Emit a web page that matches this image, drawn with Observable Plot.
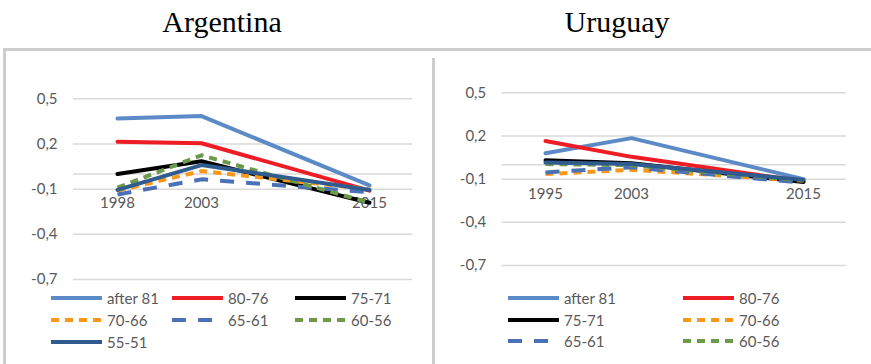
<!DOCTYPE html>
<html>
<head>
<meta charset="utf-8">
<script src="https://cdn.jsdelivr.net/npm/d3@7"></script>
<script src="https://cdn.jsdelivr.net/npm/@observablehq/plot@0.6"></script>
<style>
  html, body { margin: 0; padding: 0; background: #fff; }
  #page { position: relative; width: 871px; height: 364px; overflow: hidden; background: #fff; }
  .title { position: absolute; width: 300px; text-align: center; font-family: "Liberation Serif", "Times New Roman", serif; font-weight: normal; font-size: 30px; line-height: 1; color: #000; }
  .frame { position: absolute; background: #cdcdcd; }
  .chart { position: absolute; }
  .legend-item { position: absolute; height: 20px; display: flex; align-items: center; font-family: Lato, "Open Sans", sans-serif; font-size: 15px; color: #595959; white-space: nowrap; }
  .legend-item svg { margin-right: 5px; }
</style>
</head>
<body>
<div id="page"></div>
<script>
// Cohorts (birth years) shown in both panels
const cohorts = ["after 81", "80-76", "75-71", "70-66", "65-61", "60-56", "55-51"];

// Argentina: survey years, axis slots (the blank slot is an empty category) and values per cohort
const argentinaYears = ["1998", "2003", "2015"];
const argentinaSlots = ["1998", "2003", "", "2015"];
const argAfter81 = [0.37, 0.385, -0.075];
const arg80to76 = [0.215, 0.205, -0.11];
const arg75to71 = [0.0, 0.085, -0.19];
const arg70to66 = [-0.11, 0.02, -0.10];
const arg65to61 = [-0.135, -0.035, -0.12];
const arg60to56 = [-0.09, 0.125, -0.19];
const arg55to51 = [-0.105, 0.06, -0.105];

// Uruguay
const uruguayYears = ["1995", "2003", "2015"];
const uruguaySlots = ["1995", "2003", "", "2015"];
const uruAfter81 = [0.08, 0.185, -0.1];
const uru80to76 = [0.165, 0.055, -0.115];
const uru75to71 = [0.032, 0.01, -0.12];
const uru70to66 = [-0.065, -0.035, -0.11];
const uru65to61 = [-0.053, -0.018, -0.125];
const uru60to56 = [0.005, -0.003, -0.11];
const uru55to51 = [0.015, 0.005, -0.105];

// Value axis
const yTicks = [0.5, 0.2, -0.1, -0.4, -0.7];
const yDomain = [-0.7, 0.5];

// Line style per cohort
const styles = {
  "after 81": {stroke: "#5b8ac6", dash: null},
  "80-76": {stroke: "#ee1c25", dash: null},
  "75-71": {stroke: "#000000", dash: null},
  "70-66": {stroke: "#f7981d", dash: "8,6"},
  "65-61": {stroke: "#4a70b6", dash: "14,12"},
  "60-56": {stroke: "#6b9a48", dash: "8,6"},
  "55-51": {stroke: "#2f5b8f", dash: null}
};

const argentinaSeries = [argAfter81, arg80to76, arg75to71, arg70to66, arg65to61, arg60to56, arg55to51];
const uruguaySeries = [uruAfter81, uru80to76, uru75to71, uru70to66, uru65to61, uru60to56, uru55to51];

const comma = d => d3.format(".1f")(d).replace(".", ",").replace("−", "-");

function rowsFor(years, series) {
  const rows = [];
  cohorts.forEach((c, i) => years.forEach((y, j) => rows.push({cohort: c, year: y, value: series[i][j]})));
  return rows;
}

function panel(years, slots, series, box) {
  const rows = rowsFor(years, series);
  const lines = cohorts.map(c => Plot.line(rows.filter(r => r.cohort === c), {
    x: "year", y: "value",
    stroke: styles[c].stroke,
    strokeWidth: 4,
    strokeDasharray: styles[c].dash,
    strokeLinecap: styles[c].dash ? "butt" : "round",
    strokeLinejoin: "round"
  }));
  return Plot.plot({
    width: box.width,
    height: box.height,
    marginLeft: box.ml, marginRight: box.mr, marginTop: box.mt, marginBottom: box.mb,
    style: {background: "white", color: "#595959", fontFamily: "Lato, 'Open Sans', sans-serif", fontSize: "15px", overflow: "visible"},
    x: {type: "point", domain: slots, padding: 0.5, axis: null},
    y: {domain: yDomain, axis: null},
    marks: [
      Plot.ruleY(yTicks, {stroke: "#d9d9d9", strokeWidth: 1.5}),
      Plot.ruleY([0], {stroke: "#d9d9d9", strokeWidth: 1.5}),
      Plot.axisY(yTicks, {tickSize: 0, tickPadding: 16, tickFormat: comma, fontSize: 15, fill: "#595959", label: null}),
      Plot.text(years, {x: d => d, y: () => 0, dy: 29, fontSize: 15, fill: "#595959"}),
      ...lines
    ]
  });
}

const page = document.getElementById("page");

function add(el, css) { Object.assign(el.style, css); page.appendChild(el); return el; }

// panel frames
add(document.createElement("div"), {left: "3px", top: "48px", width: "868px", height: "3px"}).className = "frame";
add(document.createElement("div"), {left: "3px", top: "48px", width: "3px", height: "316px"}).className = "frame";
add(document.createElement("div"), {left: "432px", top: "58px", width: "3px", height: "306px"}).className = "frame";

// titles
const t1 = add(document.createElement("div"), {left: "72px", top: "7px"});
t1.className = "title"; t1.textContent = "Argentina";
const t2 = add(document.createElement("div"), {left: "467px", top: "7px"});
t2.className = "title"; t2.textContent = "Uruguay";

// charts
const left = panel(argentinaYears, argentinaSlots, argentinaSeries,
  {width: 426, height: 240, ml: 67, mr: 20, mt: 46.3, mb: 13});
left.classList.add("chart");
add(left, {left: "6px", top: "52px"});

const right = panel(uruguayYears, uruguaySlots, uruguaySeries,
  {width: 436, height: 230, ml: 66.7, mr: 25, mt: 40.3, mb: 17});
right.classList.add("chart");
add(right, {left: "435px", top: "52px"});

// legends
function legendItem(name, x, yc) {
  const div = document.createElement("div");
  div.className = "legend-item";
  const s = styles[name];
  const sw = d3.create("svg").attr("width", 51).attr("height", 6);
  sw.append("line").attr("x1", 0).attr("x2", 51).attr("y1", 3).attr("y2", 3)
    .attr("stroke", s.stroke).attr("stroke-width", 4)
    .attr("stroke-dasharray", s.dash)
    .attr("stroke-linecap", s.dash ? "butt" : "round");
  div.appendChild(sw.node());
  div.appendChild(document.createTextNode(name));
  add(div, {left: x + "px", top: (yc - 10) + "px"});
}

const leftCols = [51, 172, 295];
const leftRows = [298, 320, 342];
cohorts.forEach((c, i) => legendItem(c, leftCols[i % 3], leftRows[Math.floor(i / 3)]));

const rightCols = [508, 683];
const rightRows = [298, 320, 341];
cohorts.slice(0, 6).forEach((c, i) => legendItem(c, rightCols[i % 2], rightRows[Math.floor(i / 2)]));
</script>
</body>
</html>
